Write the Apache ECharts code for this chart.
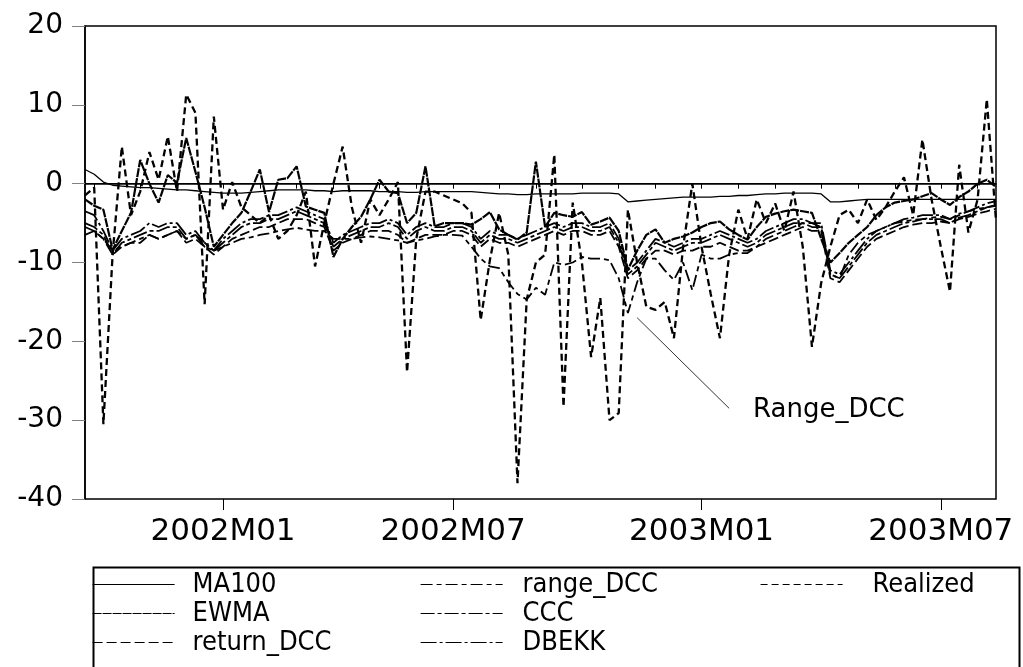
<!DOCTYPE html>
<html>
<head>
<meta charset="utf-8">
<script src="https://cdn.jsdelivr.net/npm/echarts@6/dist/echarts.min.js"></script>
<style>
html, body { margin: 0; padding: 0; background: #fff; }
#chart { width: 1023px; height: 667px; }
</style>
</head>
<body>
<div id="chart"></div>
<script>
// weekly observations (Mondays)
var weeks = [
    '2001-09-24','2001-10-01','2001-10-08','2001-10-15','2001-10-22','2001-10-29','2001-11-05','2001-11-12','2001-11-19','2001-11-26',
    '2001-12-03','2001-12-10','2001-12-17','2001-12-24','2001-12-31','2002-01-07','2002-01-14','2002-01-21','2002-01-28','2002-02-04',
    '2002-02-11','2002-02-18','2002-02-25','2002-03-04','2002-03-11','2002-03-18','2002-03-25','2002-04-01','2002-04-08','2002-04-15',
    '2002-04-22','2002-04-29','2002-05-06','2002-05-13','2002-05-20','2002-05-27','2002-06-03','2002-06-10','2002-06-17','2002-06-24',
    '2002-07-01','2002-07-08','2002-07-15','2002-07-22','2002-07-29','2002-08-05','2002-08-12','2002-08-19','2002-08-26','2002-09-02',
    '2002-09-09','2002-09-16','2002-09-23','2002-09-30','2002-10-07','2002-10-14','2002-10-21','2002-10-28','2002-11-04','2002-11-11',
    '2002-11-18','2002-11-25','2002-12-02','2002-12-09','2002-12-16','2002-12-23','2002-12-30','2003-01-06','2003-01-13','2003-01-20',
    '2003-01-27','2003-02-03','2003-02-10','2003-02-17','2003-02-24','2003-03-03','2003-03-10','2003-03-17','2003-03-24','2003-03-31',
    '2003-04-07','2003-04-14','2003-04-21','2003-04-28','2003-05-05','2003-05-12','2003-05-19','2003-05-26','2003-06-02','2003-06-09',
    '2003-06-16','2003-06-23','2003-06-30','2003-07-07','2003-07-14','2003-07-21','2003-07-28','2003-08-04','2003-08-11','2003-08-18'
];
var yTicks = [-40, -30, -20, -10, 0, 10, 20];

var ma100 = [
    1.8, 1.2, 0.2, -0.2, -0.3, -0.4, -0.5, -0.5, -0.6, -0.7,
    -0.8, -0.8, -0.9, -1.0, -1.1, -1.2, -1.2, -1.2, -1.1, -1.0,
    -0.9, -0.8, -0.8, -0.8, -0.8, -0.9, -0.9, -1.0, -0.9, -0.9,
    -0.9, -0.9, -1.0, -1.0, -1.0, -1.1, -1.1, -1.0, -1.0, -1.0,
    -1.0, -1.0, -1.0, -1.1, -1.2, -1.3, -1.3, -1.4, -1.4, -1.3,
    -1.3, -1.3, -1.3, -1.3, -1.2, -1.2, -1.2, -1.2, -1.3, -2.3,
    -2.2, -2.1, -2.0, -1.9, -1.8, -1.7, -1.7, -1.7, -1.7, -1.6,
    -1.6, -1.5, -1.5, -1.4, -1.3, -1.3, -1.2, -1.2, -1.2, -1.2,
    -1.3, -2.3, -2.3, -2.2, -2.1, -2.0, -2.0, -2.0, -2.0, -2.0,
    -2.0, -2.0, -2.0, -2.0, -2.0, -2.0, -2.0, -2.0, -2.0, -2.0
];
var ewma = [
    -2.0, -2.8, -3.3, -8.4, -6.0, -3.7, 3.0, 0.0, -2.4, 1.1,
    0.1, 5.8, 1.5, -3.0, -8.0, -6.5, -5.0, -3.7, -1.0, 1.8,
    -3.6, 0.5, 0.7, 2.2, -2.9, -3.3, -3.7, -9.3, -7.0, -5.5,
    -4.2, -2.0, 0.5, -1.0, -1.2, -5.0, -3.7, 2.2, -5.4, -5.0,
    -5.0, -5.0, -5.2, -4.5, -3.6, -5.8, -6.5, -7.1, -6.2, 2.8,
    -5.5, -3.7, -4.0, -4.2, -3.6, -5.2, -4.8, -4.3, -6.0, -10.9,
    -8.5, -6.5, -5.8, -7.5, -7.0, -6.7, -6.2, -5.5, -5.0, -4.8,
    -5.8, -6.5, -7.1, -5.5, -4.2, -3.8, -3.5, -3.3, -3.5, -3.7,
    -7.0, -10.0, -8.8, -7.5, -6.5, -5.5, -4.0, -3.0, -2.4, -2.2,
    -2.0, -1.6, -1.2, -2.0, -2.7, -1.7, -1.0, 0.0, 0.5, -0.4
];
var returnDcc = [
    -6.5, -6.0, -7.0, -9.0, -8.0, -7.5, -7.5, -6.5, -7.0, -6.5,
    -6.0, -7.5, -7.0, -8.0, -9.0, -8.0, -7.0, -6.5, -6.0, -5.5,
    -5.5, -5.0, -4.5, -4.5, -4.5, -5.0, -5.5, -8.5, -7.5, -7.0,
    -6.5, -6.0, -6.0, -6.0, -6.5, -7.5, -7.0, -6.5, -6.5, -6.5,
    -6.0, -6.0, -6.5, -8.0, -7.0, -7.5, -7.5, -8.0, -7.5, -7.0,
    -6.5, -6.0, -6.5, -6.0, -6.0, -6.5, -6.5, -6.0, -8.0, -12.0,
    -11.0, -9.5, -8.5, -8.5, -9.0, -8.5, -8.5, -8.0, -8.0, -7.5,
    -8.0, -8.5, -8.5, -8.0, -7.5, -7.0, -6.5, -6.0, -5.5, -6.0,
    -6.0, -12.0, -12.5, -11.0, -9.5, -8.0, -7.0, -6.5, -6.0, -5.5,
    -5.2, -5.0, -5.0, -4.8, -5.0, -4.5, -4.2, -3.8, -3.5, -3.2
];
var rangeDcc = [
    -5.5, -6.0, -7.0, -8.5, -8.0, -7.5, -7.0, -6.5, -7.0, -6.5,
    -6.0, -7.0, -6.5, -7.5, -8.5, -8.0, -7.5, -7.0, -6.8, -6.5,
    -6.3, -6.0, -5.8, -5.6, -5.8, -6.0, -6.0, -7.0, -7.0, -7.0,
    -6.8, -6.7, -6.8, -7.0, -7.2, -7.5, -7.2, -7.0, -6.7, -6.5,
    -6.5, -6.6, -8.0, -9.5, -10.5, -10.7, -12.5, -14.0, -14.7, -13.2,
    -14.1, -10.0, -10.3, -10.0, -9.3, -9.5, -9.5, -9.7, -12.0, -16.4,
    -12.5, -9.5, -9.5, -11.0, -12.2, -10.0, -13.5, -9.0, -9.5, -9.5,
    -9.0, -8.8, -8.8, -8.0, -7.0, -6.5, -6.0, -5.5, -5.0, -5.0,
    -5.5, -11.5, -12.0, -9.0, -7.5, -6.5, -6.0, -5.5, -5.0, -4.8,
    -4.6, -4.5, -4.3, -4.2, -4.5, -4.0, -3.5, -3.2, -3.0, -2.8
];
var ccc = [
    -5.0, -5.5, -6.5, -9.0, -7.5, -7.0, -6.5, -6.0, -6.0, -5.5,
    -5.5, -7.0, -6.5, -8.0, -8.5, -7.5, -6.5, -5.5, -5.0, -5.0,
    -4.5, -4.5, -4.0, -3.5, -4.0, -4.5, -5.0, -8.0, -7.0, -6.5,
    -6.0, -5.5, -5.5, -5.0, -5.5, -7.0, -6.0, -5.5, -6.0, -6.0,
    -5.5, -5.5, -6.0, -7.5, -6.5, -7.0, -7.0, -7.5, -7.0, -6.5,
    -6.0, -5.5, -6.0, -5.5, -5.5, -6.0, -6.0, -5.5, -7.5, -11.5,
    -10.5, -9.0, -7.5, -8.0, -8.5, -8.0, -7.5, -7.5, -7.0, -6.5,
    -7.0, -7.5, -8.0, -7.5, -6.5, -6.0, -5.5, -5.0, -5.0, -5.5,
    -5.5, -11.5, -12.0, -10.5, -9.0, -7.5, -6.5, -6.0, -5.5, -5.0,
    -4.8, -4.5, -4.5, -4.5, -5.0, -4.3, -4.0, -3.5, -3.0, -2.7
];
var dbekk = [
    -3.5, -4.0, -6.0, -8.5, -7.0, -6.5, -6.0, -5.0, -5.5, -5.0,
    -5.0, -6.5, -6.0, -7.5, -8.5, -7.0, -6.0, -5.0, -4.5, -4.5,
    -4.0, -4.0, -3.5, -3.0, -3.5, -4.0, -4.5, -7.5, -6.5, -6.0,
    -5.5, -5.0, -5.0, -4.5, -5.0, -6.5, -5.5, -5.0, -5.5, -5.5,
    -5.0, -5.0, -5.5, -7.0, -6.0, -6.5, -6.5, -7.0, -6.5, -6.0,
    -5.5, -5.0, -5.5, -5.0, -5.0, -5.5, -5.5, -5.0, -7.0, -11.0,
    -10.0, -8.5, -7.0, -7.5, -8.0, -7.5, -7.0, -7.0, -6.5, -6.0,
    -6.5, -7.0, -7.5, -7.0, -6.0, -5.5, -5.0, -4.5, -4.5, -5.0,
    -5.0, -11.0, -11.5, -10.0, -8.5, -7.0, -6.0, -5.5, -5.0, -4.5,
    -4.3, -4.0, -4.0, -4.0, -4.5, -3.8, -3.5, -3.0, -2.5, -2.2
];
var realized = [
    -1.5, -0.5, -30.5, -9.0, 4.7, -4.0, -1.0, 4.0, 0.5, 6.0,
    -1.0, 11.3, 9.0, -15.3, 8.5, -3.3, 0.2, -3.0, -4.0, -5.0,
    -4.0, -7.0, -6.0, -4.0, -1.0, -10.5, -5.0, 0.0, 4.7, -3.0,
    -7.5, -2.0, -4.0, -2.0, 0.2, -23.9, -7.0, -1.0, -1.0, -1.5,
    -2.0, -2.5, -3.7, -17.3, -9.7, -3.7, -9.0, -38.0, -14.7, -10.0,
    -9.0, 3.7, -28.3, -2.4, -10.0, -22.0, -14.5, -30.0, -29.1, -3.3,
    -10.0, -15.6, -16.0, -15.0, -19.6, -8.0, 0.0, -8.0, -14.0, -19.6,
    -9.0, -3.3, -7.0, -2.0, -5.0, -2.5, -6.0, -1.0, -8.0, -20.7,
    -12.6, -8.0, -4.0, -3.3, -5.0, -2.0, -4.6, -3.0, -1.0, 0.8,
    -4.0, 5.6, -2.0, -8.0, -13.7, 2.4, -6.2, -2.0, 10.7, -4.7
];

// first week of each month gets a tick, January/July get a label
function monthOf(i) { return weeks[i].slice(5, 7); }
function isMonthStart(i) { return i > 0 && monthOf(i) !== monthOf(i - 1); }
function isMajor(i) { return isMonthStart(i) && (monthOf(i) === '01' || monthOf(i) === '07'); }
function toLabel(v) { return v.slice(0, 4) + 'M' + v.slice(5, 7); }

var axisFont = 'DejaVu Sans';
var legendFont = "'Liberation Sans Narrow', 'DejaVu Sans Condensed', 'Liberation Sans', sans-serif";

function lineSeries(name, data, type, width) {
    return {
        name: name,
        type: 'line',
        data: data,
        symbol: 'none',
        showSymbol: false,
        animation: false,
        silent: true,
        color: '#000',
        itemStyle: { color: '#000' },
        lineStyle: { color: '#000', width: width, type: type }
    };
}

var series = [
    lineSeries('MA100', ma100, 'solid', 1.3),
    lineSeries('EWMA', ewma, [9, 1], 2.2),
    lineSeries('return_DCC', returnDcc, [10, 4], 1.8),
    lineSeries('range_DCC', rangeDcc, [12, 4, 5, 4], 1.8),
    lineSeries('CCC', ccc, [14, 3, 4, 3], 1.8),
    lineSeries('DBEKK', dbekk, [16, 3, 3, 3], 1.8),
    lineSeries('Realized', realized, [7, 4], 2.3)
];
// zero line
series[0].markLine = {
    silent: true,
    symbol: ['none', 'none'],
    label: { show: false },
    lineStyle: { color: '#000', type: 'solid', width: 1.2 },
    data: [{ yAxis: 0 }]
};
// pointer to the Range_DCC dip
series[3].markLine = {
    silent: true,
    symbol: ['none', 'none'],
    label: { show: false },
    lineStyle: { color: '#000', type: 'solid', width: 0.8 },
    data: [[{ coord: [weeks[60], -17] }, { coord: [weeks[70], -28.5] }]]
};

// one legend block per entry so the 3-column EViews layout can be placed exactly
function legendItem(name, left, top, pad) {
    return {
        data: [name],
        left: left,
        top: top,
        padding: 0,
        itemWidth: 82,
        itemHeight: 14,
        selectedMode: false,
        itemStyle: { opacity: 0 },
        lineStyle: { width: 1.2, color: '#000' },
        textStyle: { fontFamily: legendFont, fontSize: 27, color: '#000', padding: [0, 0, 0, pad] }
    };
}

var chart = echarts.init(document.getElementById('chart'), null, { renderer: 'canvas' });
chart.setOption({
    backgroundColor: '#fff',
    animation: false,
    grid: {
        left: 85, top: 26, width: 911, height: 473,
        show: true, borderColor: '#000', borderWidth: 1.5, backgroundColor: 'transparent'
    },
    xAxis: [{
        type: 'category',
        data: weeks,
        boundaryGap: false,
        axisLine: { show: true, lineStyle: { color: '#000', width: 1.5 } },
        axisTick: { show: true, length: 5, interval: function (i) { return isMonthStart(i); }, lineStyle: { color: '#000' } },
        axisLabel: {
            interval: function (i) { return isMajor(i); },
            formatter: toLabel,
            margin: 17,
            fontFamily: axisFont, fontSize: 31, color: '#000'
        },
        splitLine: { show: false }
    }, {
        type: 'category',
        data: weeks,
        boundaryGap: false,
        position: 'bottom',
        axisLine: { show: false },
        axisTick: { show: true, length: 11, interval: function (i) { return isMajor(i); }, lineStyle: { color: '#000' } },
        axisLabel: { show: false },
        splitLine: { show: false }
    }],
    yAxis: {
        type: 'value',
        min: yTicks[0],
        max: yTicks[yTicks.length - 1],
        interval: 10,
        axisLine: { show: true, lineStyle: { color: '#000', width: 1.5 } },
        axisTick: { show: true, length: 13, lineStyle: { color: '#808080' } },
        axisLabel: { margin: 22, fontFamily: axisFont, fontSize: 28, color: '#000' },
        splitLine: { show: false }
    },
    legend: [
        legendItem('MA100', 92, 571, 13),
        legendItem('EWMA', 92, 600, 13),
        legendItem('return_DCC', 92, 629, 13),
        legendItem('range_DCC', 420, 571, 15),
        legendItem('CCC', 420, 600, 15),
        legendItem('DBEKK', 420, 629, 15),
        legendItem('Realized', 760, 571, 25)
    ],
    graphic: [{
        type: 'rect',
        left: 91, top: 565,
        shape: { width: 926, height: 110 },
        style: { fill: 'none', stroke: '#000', lineWidth: 2 },
        silent: true
    }, {
        type: 'text',
        left: 753, top: 397,
        style: { text: 'Range_DCC', fontFamily: axisFont, fontSize: 26, fill: '#000' },
        silent: true
    }],
    series: series
});
</script>
</body>
</html>
